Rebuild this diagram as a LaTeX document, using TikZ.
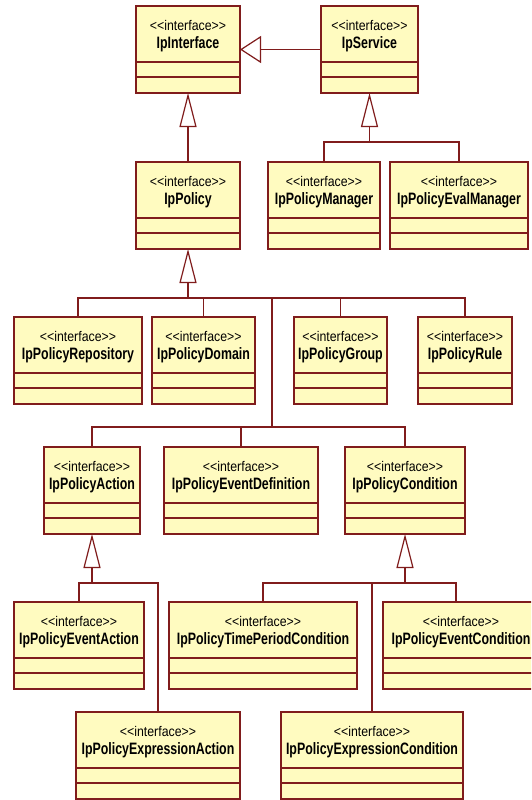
\documentclass[tikz,border=0pt]{standalone}
\usepackage{fontspec}
\usetikzlibrary{arrows.meta,calc}
\newfontfamily\stereofont{Liberation Sans}[FakeStretch=0.88]
\newfontfamily\namefont{Liberation Sans}[FakeStretch=0.75]
\definecolor{umlfill}{HTML}{FFFBC0}
\definecolor{umlline}{HTML}{801C1C}
\tikzset{
  classbox/.style={draw=umlline, fill=umlfill, line width=1.2pt, rectangle,
    inner sep=0pt, outer sep=0pt, minimum height=87pt},
  classline/.style={draw=umlline, line width=1.2pt},
  stereo/.style={inner sep=0pt, font=\stereofont\fontsize{14}{15}\selectfont},
  cname/.style={inner sep=0pt, font=\namefont\bfseries\fontsize{16.5}{18}\selectfont},
  conn/.style={draw=umlline, line width=1.2pt},
  vgen/.style={-{Triangle[open, length=34pt, width=17pt]}},
  hgen/.style={-{Triangle[open, length=21pt, width=27pt]}},
}
% interface box: id, left, top, width, name
\newcommand\umlclass[5]{%
  \node[classbox, minimum width=#4pt, anchor=north west] (#1) at (#2,#3) {};
  \draw[classline] ($(#1.north west)+(0,56)$) -- ($(#1.north east)+(0,56)$);
  \draw[classline] ($(#1.north west)+(0,71)$) -- ($(#1.north east)+(0,71)$);
  \node[stereo] (#1-st) at ($(#1.north)+(0,19)$) {<\kern0pt<interface>\kern0pt>};
  \node[cname] (#1-nm) at ($(#1.north)+(0,38.5)$) {#5};
}
\begin{document}
\begin{tikzpicture}[x=1pt, y=-1pt]
\fill[white] (0,0) rectangle (531,800);
\useasboundingbox (0,0) rectangle (531,800);
\clip (0,0) rectangle (531,800);

% row 1
\umlclass{ipinterface}{136}{6}{104}{IpInterface}
\umlclass{ipservice}{321}{6}{97}{IpService}
% row 2
\umlclass{ippolicy}{136}{162}{104}{IpPolicy}
\umlclass{manager}{268}{162}{112}{IpPolicyManager}
\umlclass{evalmanager}{390}{162}{138}{IpPolicyEvalManager}
% row 3
\umlclass{repository}{14}{317}{128}{IpPolicyRepository}
\umlclass{domain}{152}{317}{103}{IpPolicyDomain}
\umlclass{group}{294}{317}{93}{IpPolicyGroup}
\umlclass{rule}{418}{317}{94}{IpPolicyRule}
% row 4
\umlclass{action}{44}{447}{96}{IpPolicyAction}
\umlclass{eventdef}{164}{447}{154}{IpPolicyEventDefinition}
\umlclass{condition}{345}{447}{120}{IpPolicyCondition}
% row 5
\umlclass{eventaction}{14}{602}{130}{IpPolicyEventAction}
\umlclass{timeperiod}{169}{602}{188}{IpPolicyTimePeriodCondition}
\umlclass{eventcond}{383}{602}{156}{IpPolicyEventCondition}
% row 6
\umlclass{expraction}{76}{712}{164}{IpPolicyExpressionAction}
\umlclass{exprcond}{281}{712}{182}{IpPolicyExpressionCondition}

% generalisations
\draw[conn, hgen] (ipservice.west) -- (ipinterface.east);
\draw[conn, vgen] (ippolicy.north) -- (ipinterface.south);

\path (ipservice.south) ++(0,49) coordinate (svcj);
\draw[conn] (manager.north) |- (svcj);
\draw[conn] (evalmanager.north) |- (svcj);
\draw[conn, vgen] (svcj) -- (ipservice.south);

\path (ippolicy.south) ++(0,49) coordinate (polj);
\coordinate (trunktop) at (272,298);
\coordinate (trunkbot) at (272,427);
\draw[conn] (repository.north) |- (polj);
\draw[conn] (domain.north) |- (polj);
\draw[conn] (group.north) |- (polj);
\draw[conn] (rule.north) |- (polj);
\draw[conn] (trunkbot) -- (trunktop);
\draw[conn, vgen] (polj) -- (ippolicy.south);
\draw[conn] (action.north) |- (trunkbot);
\draw[conn] (eventdef.north) |- (trunkbot);
\draw[conn] (condition.north) |- (trunkbot);

\path (action.south) ++(0,49) coordinate (actj);
\draw[conn] (eventaction.north) |- (actj);
\draw[conn] (expraction.north) |- (actj);
\draw[conn, vgen] (actj) -- (action.south);

\path (condition.south) ++(0,49) coordinate (condj);
\draw[conn] (timeperiod.north) |- (condj);
\draw[conn] (exprcond.north) |- (condj);
\draw[conn] ($(eventcond.north west)+(73,0)$) |- (condj);
\draw[conn, vgen] (condj) -- (condition.south);
\end{tikzpicture}
\end{document}
